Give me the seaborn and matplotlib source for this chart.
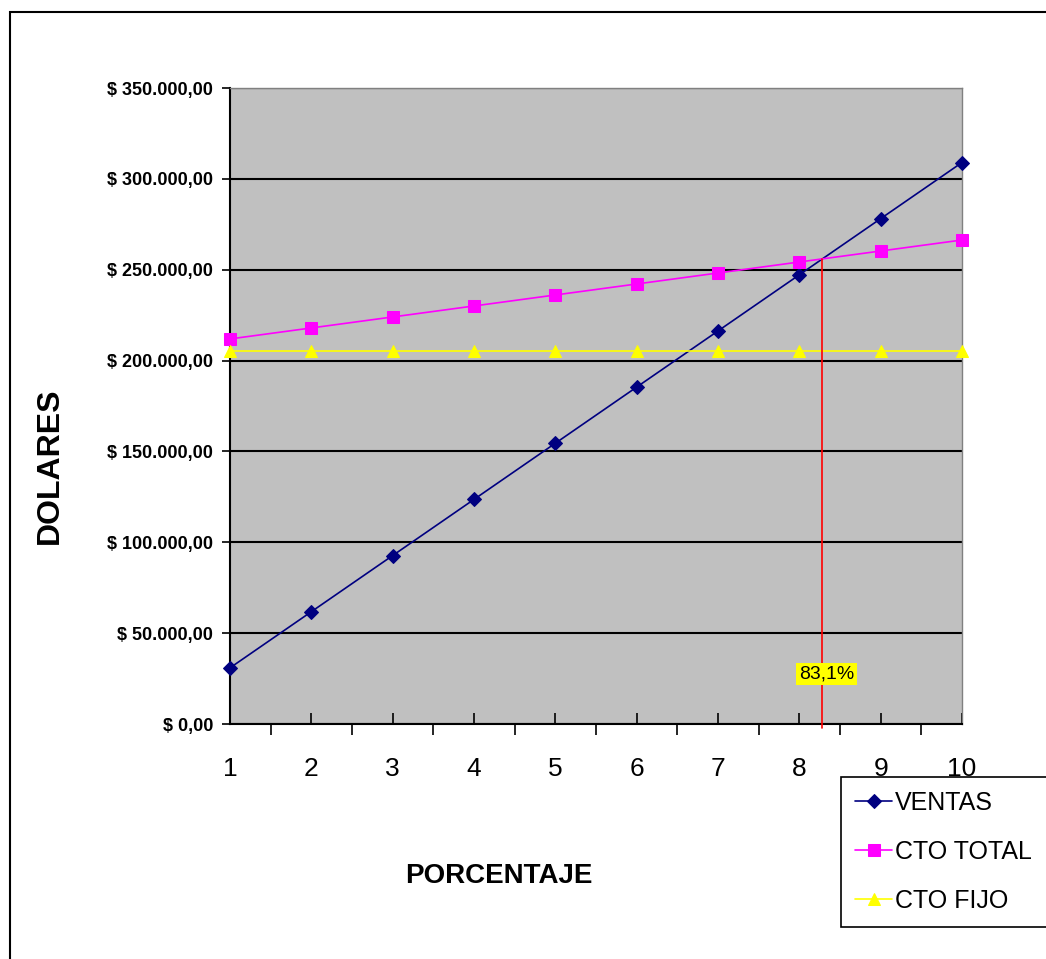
import matplotlib
matplotlib.use("Agg")
import matplotlib.pyplot as plt
from matplotlib.ticker import FixedLocator, FuncFormatter
from matplotlib.patches import Rectangle
import seaborn as sns
import pandas as pd
import numpy as np

# ---- data ----
porcentaje = [1, 2, 3, 4, 5, 6, 7, 8, 9, 10]
ventas = [30900, 61800, 92700, 123600, 154500, 185400, 216300, 247200, 278100, 309000]
cto_total = [211900, 217950, 224000, 230050, 236100, 242150, 248200, 254250, 260300, 266350]
cto_fijo = [205300, 205300, 205300, 205300, 205300, 205300, 205300, 205300, 205300, 205300]
series_names = ["VENTAS", "CTO TOTAL", "CTO FIJO"]
y_ticks = [0, 50000, 100000, 150000, 200000, 250000, 300000, 350000]
break_even_label = "83,1%"

sns.set_style("white")
plt.rcParams["font.family"] = ["Liberation Sans", "DejaVu Sans"]
plt.rcParams["text.color"] = "black"
plt.rcParams["xtick.color"] = "black"
plt.rcParams["ytick.color"] = "black"
plt.rcParams["xtick.labelcolor"] = "black"
plt.rcParams["ytick.labelcolor"] = "black"
FONT = ["Liberation Sans", "DejaVu Sans"]

W, H = 1046, 959
fig = plt.figure(figsize=(W / 100, H / 100), dpi=100)
ax = fig.add_axes([230 / W, 1 - 724 / H, (962 - 230) / W, (724 - 88) / H])
ax.set_facecolor("#C0C0C0")

# gridlines
ax.yaxis.grid(True, color="black", linewidth=1.5, zorder=1)
ax.xaxis.grid(False)
ax.set_axisbelow(True)

df = pd.DataFrame({"x": porcentaje, "VENTAS": ventas, "CTO TOTAL": cto_total, "CTO FIJO": cto_fijo})
styles = {
    "VENTAS": dict(color="#000080", marker="D", markersize=7),
    "CTO TOTAL": dict(color="#FF00FF", marker="s", markersize=8.5),
    "CTO FIJO": dict(color="#FFFF00", marker="^", markersize=8.5),
}
for name in series_names:
    st = styles[name]
    sns.lineplot(data=df, x="x", y=name, ax=ax, color=st["color"], marker=st["marker"],
                 markersize=st["markersize"], markeredgecolor=st["color"], linewidth=1.2,
                 label=name, zorder=3, clip_on=False)

# break-even
v = np.array(ventas, float)
t = np.array(cto_total, float)
xs = np.array(porcentaje, float)
d = v - t
i = np.where(np.diff(np.sign(d)) != 0)[0][0]
frac = -d[i] / (d[i + 1] - d[i])
x_be = xs[i] + frac * (xs[i + 1] - xs[i])
y_be = v[i] + frac * (v[i + 1] - v[i])
ax.plot([x_be, x_be], [y_be, -2000], color="red", linewidth=1.2, zorder=4, clip_on=False)
ax.text(x_be + 0.05, 27500, break_even_label, family=FONT, fontsize=14, ha="center", va="center",
        color="black",
        bbox=dict(boxstyle="square,pad=0.15", facecolor="#FFFF00", edgecolor="none"), zorder=5)

ax.set_xlim(1, 10)
ax.set_ylim(0, 350000)
ax.xaxis.set_major_locator(FixedLocator(porcentaje))
ax.xaxis.set_minor_locator(FixedLocator([p + 0.5 for p in porcentaje[:-1]]))
ax.yaxis.set_major_locator(FixedLocator(y_ticks))
ax.yaxis.set_major_formatter(FuncFormatter(lambda val, pos: "$ " + f"{int(val):,}".replace(",", ".") + ",00"))

ax.tick_params(axis="x", which="major", direction="in", length=8, width=1.2, color="black",
               pad=24, labelsize=19, bottom=True, labelcolor="black")
ax.tick_params(axis="x", which="minor", direction="out", length=8, width=1.2, color="black", bottom=True)
ax.tick_params(axis="y", which="major", direction="out", length=6, width=1.2, color="black",
               pad=6, labelsize=13, left=True, labelcolor="black")
for lab in ax.get_yticklabels():
    lab.set_fontweight("bold")

for s in ["left", "bottom"]:
    ax.spines[s].set_color("black")
    ax.spines[s].set_linewidth(1.5)
for s in ["top", "right"]:
    ax.spines[s].set_color("#808080")
    ax.spines[s].set_linewidth(1.0)

ax.set_xlabel("")
ax.set_ylabel("")
fig.text(50 / W, 1 - 466 / H, "DOLARES", rotation=90, fontsize=23, fontweight="bold",
         ha="center", va="center", color="black")
fig.text(499 / W, 1 - 876 / H, "PORCENTAJE", fontsize=20, fontweight="bold",
         ha="center", va="center", color="black")

leg = ax.legend(loc="upper left", bbox_to_anchor=(841 / W, 1 - 925 / H, 0.25, (925 - 777) / H),
                bbox_transform=fig.transFigure, mode="expand",
                frameon=True, fancybox=False, edgecolor="black", framealpha=1, facecolor="white",
                prop={"family": FONT, "size": 18}, handlelength=1.5, handletextpad=0.1,
                labelspacing=1.0, borderpad=0.55, borderaxespad=0)
leg.get_frame().set_linewidth(1.2)
leg.set_zorder(10)
for txt in leg.get_texts():
    txt.set_color("black")

# outer chart border
fig.patches.append(Rectangle((10 / W, -0.1), 2, 1 - 12 / H + 0.1, transform=fig.transFigure,
                             fill=False, edgecolor="black", linewidth=1.5))

fig.savefig("out.png", dpi=100)
